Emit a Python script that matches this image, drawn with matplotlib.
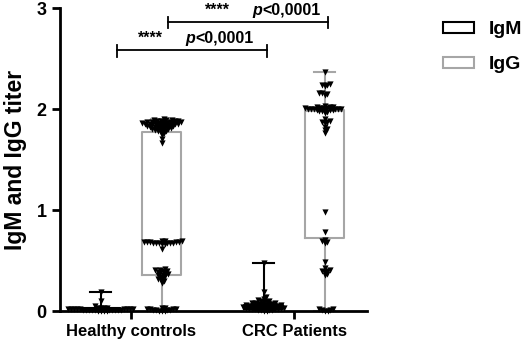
import numpy as np
import matplotlib.pyplot as plt
from matplotlib.patches import Patch

plt.rcParams['font.family'] = ['Liberation Sans', 'DejaVu Sans']
plt.rcParams['font.weight'] = 'bold'

groups = ["Healthy controls", "CRC Patients"]
series = ["IgM", "IgG"]

hc_igm = [0.19, 0.10, 0.05, 0.03, 0.03, 0.03, 0.03, 0.02, 0.02, 0.02, 0.02, 0.02,
          0.02, 0.02, 0.02, 0.02, 0.01, 0.01, 0.01, 0.01, 0.01, 0.01, 0.01, 0.01,
          0.01, 0.01, 0.00, 0.00, 0.00, 0.00]
hc_igg = [1.90, 1.89, 1.89, 1.89, 1.88, 1.88, 1.88, 1.88, 1.87, 1.87, 1.87, 1.87,
          1.87, 1.86, 1.86, 1.86, 1.86, 1.86, 1.85, 1.85, 1.85, 1.85, 1.85, 1.84,
          1.84, 1.84, 1.84, 1.83, 1.83, 1.83, 1.83, 1.82, 1.82, 1.82, 1.81, 1.81,
          1.81, 1.80, 1.80, 1.80, 1.79, 1.79, 1.78, 1.78, 1.77, 1.76, 1.74, 1.70,
          1.66,
          0.69, 0.69, 0.69, 0.68, 0.68, 0.68, 0.68, 0.68, 0.67, 0.67, 0.67, 0.67,
          0.67, 0.67, 0.66, 0.66, 0.62,
          0.42, 0.41, 0.41, 0.40, 0.40, 0.39, 0.38, 0.38, 0.37, 0.36, 0.36, 0.35,
          0.34, 0.33, 0.32, 0.31, 0.30, 0.28,
          0.03, 0.03, 0.02, 0.02, 0.02, 0.02, 0.01, 0.01, 0.01, 0.01, 0.00, 0.00,
          0.00]
crc_igm = [0.48, 0.19, 0.14, 0.12, 0.11, 0.10, 0.10, 0.09, 0.09, 0.08, 0.08, 0.08,
           0.07, 0.07, 0.07, 0.07, 0.06, 0.06, 0.06, 0.06, 0.05, 0.05, 0.05, 0.05,
           0.05, 0.04, 0.04, 0.04, 0.04, 0.04, 0.03, 0.03, 0.03, 0.03, 0.03,
           0.02, 0.02, 0.02, 0.02, 0.02, 0.01, 0.01, 0.01, 0.01, 0.00, 0.00]
crc_igg = [2.37, 2.25, 2.24, 2.24, 2.23, 2.16, 2.16, 2.15, 2.14, 2.03, 2.02, 2.02,
           2.02, 2.01, 2.01, 2.01, 2.01, 2.00, 2.00, 2.00, 2.00, 2.00, 2.00, 1.99,
           1.99, 1.99, 1.99, 1.98, 1.98, 1.97, 1.96, 1.90, 1.88, 1.87, 1.87, 1.86,
           1.82, 1.80, 1.79, 1.76,
           0.98, 0.78, 0.70, 0.69, 0.68, 0.67, 0.49, 0.43, 0.41, 0.40, 0.40, 0.39,
           0.37, 0.36, 0.02, 0.02, 0.01, 0.01, 0.00, 0.00]

# box stats: q1, median, q3, min, max
box_q1 = [0.01, 0.36, 0.02, 0.72]
box_med = [0.015, 0.68, 0.04, 1.98]
box_q3 = [0.03, 1.77, 0.06, 1.99]
box_lo = [0.0, 0.0, 0.0, 0.0]
box_hi = [0.19, 1.90, 0.475, 2.37]

pvals = ["<0,0001", "<0,0001"]

points = [hc_igm, hc_igg, crc_igm, crc_igg]
pos = [-0.187, 0.187, 0.813, 1.187]
cols = ["black", "#a6a6a6", "black", "#a6a6a6"]


def swarm(y_px, d):
    xs = np.zeros(len(y_px))
    placed = []
    for i in np.argsort(y_px, kind="stable"):
        y = y_px[i]
        near = [(px, py) for px, py in placed if abs(py - y) < d]
        best = 0.0
        if near:
            cands = [0.0]
            for px, py in near:
                dx = np.sqrt(d * d - (py - y) ** 2)
                cands += [px + dx, px - dx]
            for c in sorted(cands, key=abs):
                if all((c - px) ** 2 + (y - py) ** 2 >= d * d - 1e-6 for px, py in near):
                    best = c
                    break
        xs[i] = best
        placed.append((best, y))
    return xs


fig = plt.figure(figsize=(5.26, 3.5), dpi=100)
ax = fig.add_axes([0.114, 0.111, 0.584, 0.866])
ax.set_xlim(-0.436, 1.448)
ax.set_ylim(0, 3)

for i in range(4):
    c = cols[i]
    st = dict(q1=box_q1[i], med=box_med[i], q3=box_q3[i],
              whislo=box_lo[i], whishi=box_hi[i], fliers=[])
    ax.bxp([st], positions=[pos[i]], widths=0.24, capwidths=0.13,
           showfliers=False, patch_artist=False,
           boxprops=dict(color=c, linewidth=1.5),
           whiskerprops=dict(color=c, linewidth=1.5),
           capprops=dict(color=c, linewidth=1.5),
           medianprops=dict(color=c, linewidth=1.5),
           manage_ticks=False, zorder=2)

# swarm points
x_scale = ax.transData.transform((1, 0))[0] - ax.transData.transform((0, 0))[0]
for i in range(4):
    vals = np.array(points[i])
    ypx = ax.transData.transform(np.column_stack([np.zeros(len(vals)), vals]))[:, 1]
    off = swarm(ypx, 3.0) / x_scale
    ax.scatter(pos[i] + off, vals, marker="v", s=20, color="black",
               linewidths=0, zorder=3, clip_on=False)

# significance brackets
brackets = [(-0.086, 0.834, 2.58, 0.117, 0.393, 2.655),
            (0.225, 1.207, 2.86, 0.528, 0.804, 2.935)]
for (x0, x1, yb, xs, xp, yt), p in zip(brackets, pvals):
    ax.plot([x0, x1], [yb, yb], color="black", lw=1.3)
    for xx in (x0, x1):
        ax.plot([xx, xx], [yb - 0.06, yb + 0.05], color="black", lw=1.3)
    ax.text(xs, yt, "****", ha="center", va="baseline", fontsize=11.5, fontweight="bold")
    ax.text(xp, yt, "p", ha="right", va="baseline", fontsize=11.5,
            fontweight="bold", style="italic")
    ax.text(xp, yt, p, ha="left", va="baseline", fontsize=11.5, fontweight="bold")

for s in ["top", "right"]:
    ax.spines[s].set_visible(False)
for s in ["left", "bottom"]:
    ax.spines[s].set_linewidth(2)
ax.set_xticks([0, 1])
ax.set_xticklabels(groups, fontsize=12, fontweight="bold")
ax.set_yticks([0, 1, 2, 3])
ax.set_yticklabels(["0", "1", "2", "3"], fontsize=13, fontweight="bold")
ax.tick_params(width=2, length=6)
ax.set_ylabel("IgM and IgG titer", fontsize=16.5, fontweight="bold", labelpad=7)

handles = [Patch(facecolor="white", edgecolor="black", linewidth=1.5),
           Patch(facecolor="white", edgecolor="#a6a6a6", linewidth=1.5)]
fig.legend(handles, series, loc="upper left", bbox_to_anchor=(0.808, 0.99),
           frameon=False, prop=dict(size=14, weight="bold"),
           handlelength=1.6, handleheight=0.5, labelspacing=0.95, handletextpad=0.8)

fig.savefig("out.png", dpi=100)
